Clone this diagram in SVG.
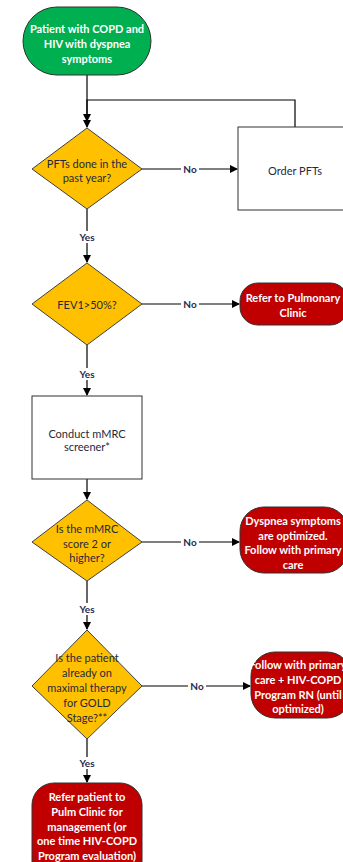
<svg xmlns="http://www.w3.org/2000/svg" width="343" height="862" viewBox="0 0 343 862">
<style>
.t{font-family:Lato,"Liberation Sans",sans-serif;font-size:11px;text-anchor:middle;dominant-baseline:central}
.w{fill:#ffffff;font-weight:bold}
.d{fill:#1f2a3c}
.l{font-weight:bold;fill:#1f2a50;font-size:10px}
.dia{fill:#FFC000;stroke:#404040;stroke-width:1}
.red{fill:#C00000;stroke:#303030;stroke-width:1}
.box{fill:#ffffff;stroke:#303030;stroke-width:1}
.c{stroke:#000;stroke-width:1.2;fill:none}
.lb{fill:#ffffff}
</style>
<defs>
<marker id="a" markerWidth="8" markerHeight="8" refX="7" refY="4" orient="auto" markerUnits="userSpaceOnUse">
<path d="M0,0 L8,4 L0,8 z" fill="#000"/>
</marker>
</defs>
<rect width="343" height="862" fill="#ffffff"/>
<g id="connectors">
<path class="c" d="M87,75 V121" marker-end="url(#a)"/>
<path class="c" d="M295,127 V100 H87 V127" marker-end="url(#a)"/>
<path class="c" d="M142,169 H237" marker-end="url(#a)"/>
<path class="c" d="M87,209 V262" marker-end="url(#a)"/>
<path class="c" d="M142,304 H239" marker-end="url(#a)"/>
<path class="c" d="M87,345 V395" marker-end="url(#a)"/>
<path class="c" d="M87,479 V499" marker-end="url(#a)"/>
<path class="c" d="M142,542 H239" marker-end="url(#a)"/>
<path class="c" d="M87,581 V629" marker-end="url(#a)"/>
<path class="c" d="M142,686 H250" marker-end="url(#a)"/>
<path class="c" d="M87,739 V782" marker-end="url(#a)"/>
<rect class="lb" x="181" y="163" width="18" height="12"/>
<text class="t l" x="190" y="169">No</text>
<rect class="lb" x="76" y="231" width="22" height="12"/>
<text class="t l" x="87" y="237">Yes</text>
<rect class="lb" x="181" y="298" width="18" height="12"/>
<text class="t l" x="190" y="304">No</text>
<rect class="lb" x="76" y="368" width="22" height="12"/>
<text class="t l" x="87" y="374">Yes</text>
<rect class="lb" x="181" y="536" width="18" height="12"/>
<text class="t l" x="190" y="542">No</text>
<rect class="lb" x="76" y="603" width="22" height="12"/>
<text class="t l" x="87" y="609">Yes</text>
<rect class="lb" x="188" y="680" width="18" height="12"/>
<text class="t l" x="197" y="686">No</text>
<rect class="lb" x="76" y="757" width="22" height="12"/>
<text class="t l" x="87" y="763">Yes</text>
</g>
<g id="start">
<rect x="23" y="7" width="128" height="68" rx="34" ry="34" fill="#00B050" stroke="#303030" stroke-width="1"/>
<text class="t w" x="87" y="28">Patient with COPD and</text>
<text class="t w" x="87" y="43">HIV with dyspnea</text>
<text class="t w" x="87" y="58">symptoms</text>
</g>
<g id="pfts">
<polygon class="dia" points="87,128 142,169 87,209 32,169"/>
<text class="t d" x="87" y="163">PFTs done in the</text>
<text class="t d" x="87" y="177">past year?</text>
</g>
<g id="order">
<rect class="box" x="238" y="127" width="114" height="83"/>
<text class="t d" x="295" y="170">Order PFTs</text>
</g>
<g id="fev">
<polygon class="dia" points="87,263 142,304 87,345 32,304"/>
<text class="t d" x="87" y="304">FEV1&gt;50%?</text>
</g>
<g id="refer1">
<rect class="red" x="240" y="283" width="108" height="42" rx="18" ry="18"/>
<text class="t w" x="293" y="297">Refer to Pulmonary</text>
<text class="t w" x="293" y="312">Clinic</text>
</g>
<g id="mmrc">
<rect class="box" x="32" y="396" width="110" height="83"/>
<text class="t d" x="87" y="433">Conduct mMRC</text>
<text class="t d" x="87" y="446">screener*</text>
</g>
<g id="score">
<polygon class="dia" points="87,500 142,542 87,581 32,542"/>
<text class="t d" x="87" y="528">Is the mMRC</text>
<text class="t d" x="87" y="543">score 2 or</text>
<text class="t d" x="87" y="557">higher?</text>
</g>
<g id="optimized">
<rect class="red" x="240" y="507" width="108" height="66" rx="24" ry="24"/>
<text class="t w" x="293" y="520">Dyspnea symptoms</text>
<text class="t w" x="293" y="535">are optimized.</text>
<text class="t w" x="293" y="549">Follow with primary</text>
<text class="t w" x="293" y="564">care</text>
</g>
<g id="maximal">
<polygon class="dia" points="87,630 142,686 87,739 32,686"/>
<text class="t d" x="87" y="657">Is the patient</text>
<text class="t d" x="87" y="672">already on</text>
<text class="t d" x="87" y="687">maximal therapy</text>
<text class="t d" x="87" y="702">for GOLD</text>
<text class="t d" x="87" y="717">Stage?**</text>
</g>
<g id="follow">
<rect class="red" x="251" y="652" width="100" height="66" rx="24" ry="24"/>
<text class="t w" x="298" y="664">Follow with primary</text>
<text class="t w" x="298" y="679">care + HIV-COPD</text>
<text class="t w" x="298" y="694">Program RN (until</text>
<text class="t w" x="298" y="708">optimized)</text>
</g>
<g id="refer2">
<rect class="red" x="32" y="783" width="110" height="100" rx="22" ry="22"/>
<text class="t w" x="87" y="796">Refer patient to</text>
<text class="t w" x="87" y="811">Pulm Clinic for</text>
<text class="t w" x="87" y="826">management (or</text>
<text class="t w" x="87" y="840">one time HIV-COPD</text>
<text class="t w" x="87" y="855">Program evaluation)</text>
</g>
</svg>
